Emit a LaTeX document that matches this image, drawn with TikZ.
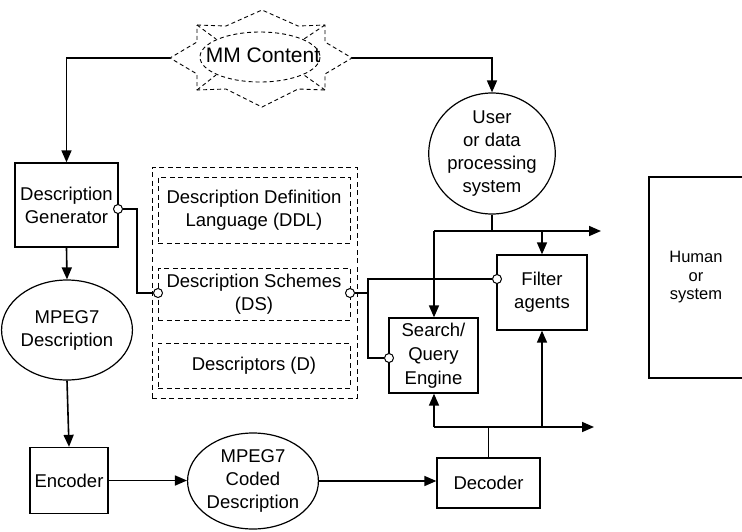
\documentclass[tikz,border=0pt]{standalone}
\usepackage{fontspec}
\setmainfont{Liberation Sans}
\usetikzlibrary{shapes.geometric,arrows.meta}
\begin{document}
\begin{tikzpicture}[x=1pt,y=-1pt,
  every node/.style={font=\fontsize{18.5}{23}\selectfont, align=center, inner sep=0pt},
  box/.style={draw, line width=1.3pt, rectangle},
  oval/.style={draw, line width=1.2pt, ellipse},
  dbox/.style={draw, line width=1pt, dash pattern=on 5pt off 3.5pt},
  burst/.style={draw, line width=0.9pt, dash pattern=on 4pt off 3pt},
  flow/.style={line width=1.6pt},
  tip/.style={-{Triangle[length=12pt,width=10pt]}},
  port/.style={circle, draw, fill=white, line width=1pt, minimum size=9pt, inner sep=0pt}]
\useasboundingbox (0,0) rectangle (742,531);

% ---- MM Content burst ----
\draw[burst] (197,25) -- (226,26) -- (262,10) -- (298,26) -- (325,25) -- (325,42)
  -- (352,58) -- (325,74) -- (325,90) -- (298,89) -- (262,107) -- (226,89)
  -- (197,90) -- (197,74) -- (170,58) -- (197,42) -- cycle;
\draw[burst] (260,57) ellipse [x radius=60, y radius=25];
\draw[burst] (197,25) -- (216,39) (325,25) -- (304,39)
             (197,90) -- (216,75) (325,90) -- (304,75);
\node[font=\fontsize{21}{25}\selectfont] (mm) at (263,55) {MM Content};
\coordinate (mmL) at (170,58);
\coordinate (mmR) at (352,58);

% ---- left chain ----
\node[box, minimum width=103pt, minimum height=84pt] (dg) at (66.5,205) {Description\\Generator};
\node[oval, minimum width=110pt, minimum height=100pt] (md) at (67,330) {MPEG7\\Description};
\node[box, minimum width=78pt, minimum height=66pt] (enc) at (69,480.5) {Encoder};
\node[oval, minimum width=120pt, minimum height=96pt] (coded) at (253,481) {MPEG7\\Coded\\Description};
\node[box, minimum width=103pt, minimum height=50pt] (dec) at (488.5,483) {Decoder};

% ---- description tools ----
\node[dbox, minimum width=205pt, minimum height=231pt] (tools) at (254.5,282.5) {};
\node[dbox, minimum width=192pt, minimum height=66pt] (ddl) at (254,210) {Description Definition\\Language (DDL)};
\node[dbox, minimum width=192pt, minimum height=52pt] (ds) at (254,294) {Description Schemes\\(DS)};
\node[dbox, minimum width=192pt, minimum height=45pt] (d) at (254,365.5) {Descriptors (D)};

% ---- right side ----
\node[oval, minimum width=121pt, minimum height=103pt] (user) at (492,153.5) {User\\or data\\processing\\system};
\node[box, minimum width=89pt, minimum height=75pt, font=\fontsize{18.5}{24}\selectfont] (search) at (433.5,355.5) {Search/\\Query\\Engine};
\node[box, minimum width=90pt, minimum height=75pt] (filter) at (542,292.5) {Filter\\agents};
\node[box, minimum width=94pt, minimum height=201pt, font=\fontsize{16.5}{18.5}\selectfont] (human) at (696,277.5) {Human\\or\\system};

% ---- ports ----
\node[port] (pdg) at (118,209) {};
\node[port] (pdsl) at (158,293) {};
\node[port] (pdsr) at (350,293) {};
\node[port] (pf) at (497,279) {};
\node[port] (ps) at (389,358) {};

% ---- connectors ----
\draw[flow,tip] (mmL) -| (dg.north);
\draw[flow,tip] (mmR) -| (user.north);
\draw[flow,tip] (dg.south) -- (md.north);
\draw[flow,tip] (md.south) -- (enc.north);
\draw[flow,tip] (enc.east) -- (enc.east -| coded.west);
\draw[flow,tip] (coded.east) -- (coded.east -| dec.west);

\draw[flow] (pdg) -- ++(19,0) |- (pdsl);
\draw[flow] (pdsr) -- ++(18,0) coordinate (jds);
\draw[flow] (jds) |- (pf);
\draw[flow] (jds) |- (ps);

% top bus
\coordinate (tbL) at (434,231);
\coordinate (tbR) at (601,231);
\draw[flow] (user.south) -- (user.south |- tbL);
\draw[flow,tip] (tbL) -- (tbR);
\draw[flow,tip] (tbL) -- (tbL |- search.north);
\draw[flow,tip] (filter.north |- tbL) -- (filter.north);

% bottom bus
\coordinate (bbL) at (434,427);
\coordinate (bbR) at (594,427);
\draw[flow] (dec.north) -- (dec.north |- bbL);
\draw[flow,tip] (bbL) -- (bbR);
\draw[flow,tip] (bbL) -- (bbL |- search.south);
\draw[flow,tip] (filter.south |- bbL) -- (filter.south);
\end{tikzpicture}
\end{document}
